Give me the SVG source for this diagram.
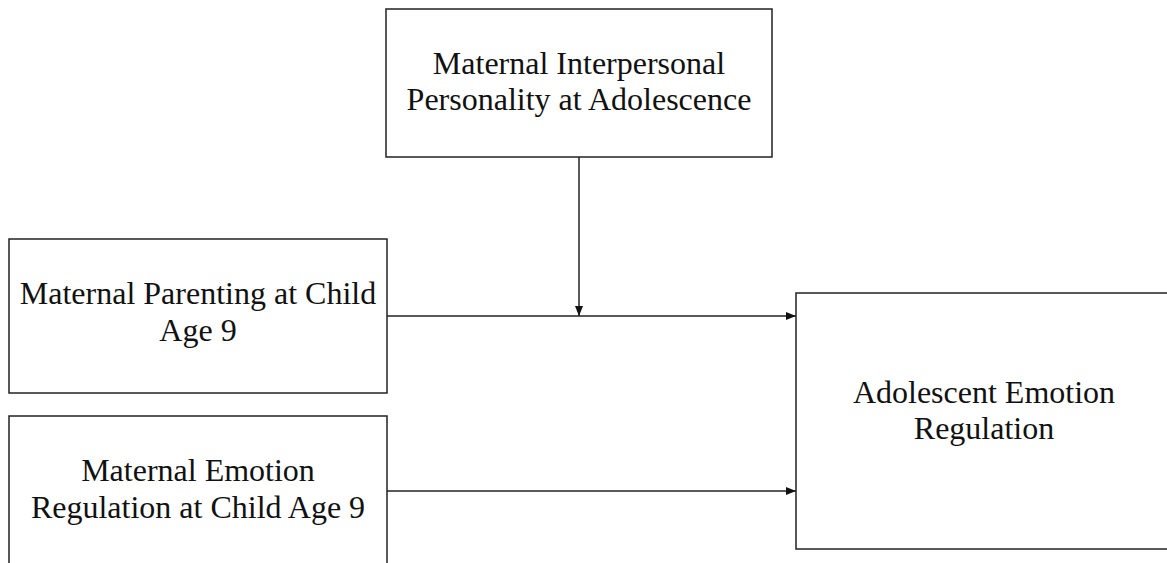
<svg xmlns="http://www.w3.org/2000/svg" width="1167" height="563" viewBox="0 0 1167 563">
<style>
.box{fill:#fff;stroke:#222;stroke-width:1.5}
.t{font-family:"Liberation Serif","Times New Roman",serif;font-size:32px;fill:#111;text-anchor:middle}
.c{stroke:#222;stroke-width:1.5;fill:none}
</style>
<defs>
<marker id="ah" viewBox="0 0 10 8" refX="10" refY="4" markerWidth="10" markerHeight="8" markerUnits="userSpaceOnUse" orient="auto">
<path d="M0,0 L10,4 L0,8 Z" fill="#111"/>
</marker>
</defs>
<rect width="1167" height="563" fill="#fff"/>
<g id="connectors">
<line class="c" x1="387" y1="316" x2="796" y2="316" marker-end="url(#ah)"/>
<line class="c" x1="579" y1="157" x2="579" y2="316" marker-end="url(#ah)"/>
<line class="c" x1="387" y1="491" x2="796" y2="491" marker-end="url(#ah)"/>
</g>
<g id="node-personality">
<rect class="box" x="386" y="9" width="386" height="148"/>
<text class="t" x="579" y="74">Maternal Interpersonal</text>
<text class="t" x="579" y="110">Personality at Adolescence</text>
</g>
<g id="node-parenting">
<rect class="box" x="9" y="239" width="378" height="154"/>
<text class="t" x="198" y="304">Maternal Parenting at Child</text>
<text class="t" x="198" y="341">Age 9</text>
</g>
<g id="node-emotion-reg">
<rect class="box" x="9" y="416" width="378" height="160"/>
<text class="t" x="198" y="481">Maternal Emotion</text>
<text class="t" x="198" y="518">Regulation at Child Age 9</text>
</g>
<g id="node-adolescent">
<rect class="box" x="796" y="293" width="376" height="256"/>
<text class="t" x="984" y="403">Adolescent Emotion</text>
<text class="t" x="984" y="439">Regulation</text>
</g>
</svg>
